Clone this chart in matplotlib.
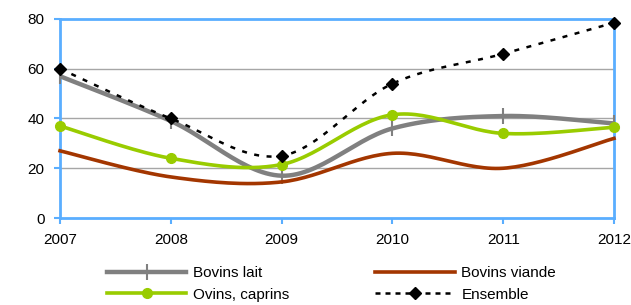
import numpy as np
import matplotlib
matplotlib.use("Agg")
import matplotlib.pyplot as plt
from matplotlib.lines import Line2D

years = [2007, 2008, 2009, 2010, 2011, 2012]
bovins_lait = [57, 39, 17, 36, 41, 38]
bovins_viande = [27, 16.5, 14.5, 26, 20, 32]
ovins_caprins = [37, 24, 21.5, 41.5, 34, 36.5]
ensemble = [60, 40, 25, 54, 66, 78.5]
yticks = [0, 20, 40, 60, 80]

plt.rcParams['font.family'] = ['Liberation Sans', 'DejaVu Sans']


def smooth(x, y, n=30):
    x = np.asarray(x, float)
    y = np.asarray(y, float)
    P = np.column_stack([x, y])
    Pe = np.vstack([P[0], P, P[-1]])
    out = []
    for i in range(len(P) - 1):
        p0, p1, p2, p3 = Pe[i], Pe[i + 1], Pe[i + 2], Pe[i + 3]
        c1 = p1 + (p2 - p0) / 6.0
        c2 = p2 - (p3 - p1) / 6.0
        t = np.linspace(0, 1, n)[:, None]
        seg = ((1 - t) ** 3) * p1 + 3 * ((1 - t) ** 2) * t * c1 + 3 * (1 - t) * t ** 2 * c2 + t ** 3 * p2
        if i > 0:
            seg = seg[1:]
        out.append(seg)
    out = np.vstack(out)
    return out[:, 0], out[:, 1]


fig = plt.figure(figsize=(6.31, 3.05), dpi=100)
ax = fig.add_axes([60 / 631, 1 - 218 / 305, (614 - 60) / 631, (218 - 19) / 305])

blue = '#5AAEFF'
gray = '#808080'
brown = '#A33600'
green = '#99CC00'
fs = 11

ax.set_xlim(2007, 2012)
ax.set_ylim(0, 80)
ax.set_yticks(yticks)
ax.set_xticks(years)
for y in yticks[1:-1]:
    ax.axhline(y, color='#A6A6A6', lw=1, zorder=1)

for s in ax.spines.values():
    s.set_color(blue)
    s.set_linewidth(2)
ax.tick_params(axis='both', colors=blue, width=1.5, length=4, direction='out',
               labelcolor='black', labelsize=fs)
ax.tick_params(axis='x', pad=7)
ax.tick_params(axis='y', pad=7)

sx, sy = smooth(years, bovins_lait)
ax.plot(sx, sy, color=gray, lw=3.2, zorder=3, clip_on=False, solid_capstyle='butt')
ax.plot(years, bovins_lait, ls='none', marker='|', ms=11, mew=1.5, color=gray, zorder=3, clip_on=False)

sx, sy = smooth(years, bovins_viande)
ax.plot(sx, sy, color=brown, lw=2.6, zorder=4, clip_on=False)

sx, sy = smooth(years, ovins_caprins)
ax.plot(sx, sy, color=green, lw=2.6, zorder=5, clip_on=False)
ax.plot(years, ovins_caprins, ls='none', marker='o', ms=7, color=green, zorder=5, clip_on=False)

sx, sy = smooth(years, ensemble)
ax.plot(sx, sy, color='black', lw=1.8, ls=(0, (2, 3)), zorder=6, clip_on=False)
ax.plot(years, ensemble, ls='none', marker='D', ms=6, color='black', zorder=6, clip_on=False)

handles = [
    Line2D([], [], color=gray, lw=3.2, marker='|', ms=11, mew=1.5),
    Line2D([], [], color=green, lw=2.6, marker='o', ms=7),
    Line2D([], [], color=brown, lw=2.6),
    Line2D([], [], color='black', lw=1.8, ls=(0, (2, 2)), marker='D', ms=6),
]
labels = ['Bovins lait', 'Ovins, caprins', 'Bovins viande', 'Ensemble']
fig.legend(handles, labels, ncol=2, loc='center left', bbox_to_anchor=(107 / 631, 1 - 284 / 305),
           frameon=False, fontsize=fs, handlelength=5.2, handletextpad=0.45,
           columnspacing=5.6, labelspacing=0.5, borderpad=0, borderaxespad=0)

fig.savefig('out.png', dpi=100)
